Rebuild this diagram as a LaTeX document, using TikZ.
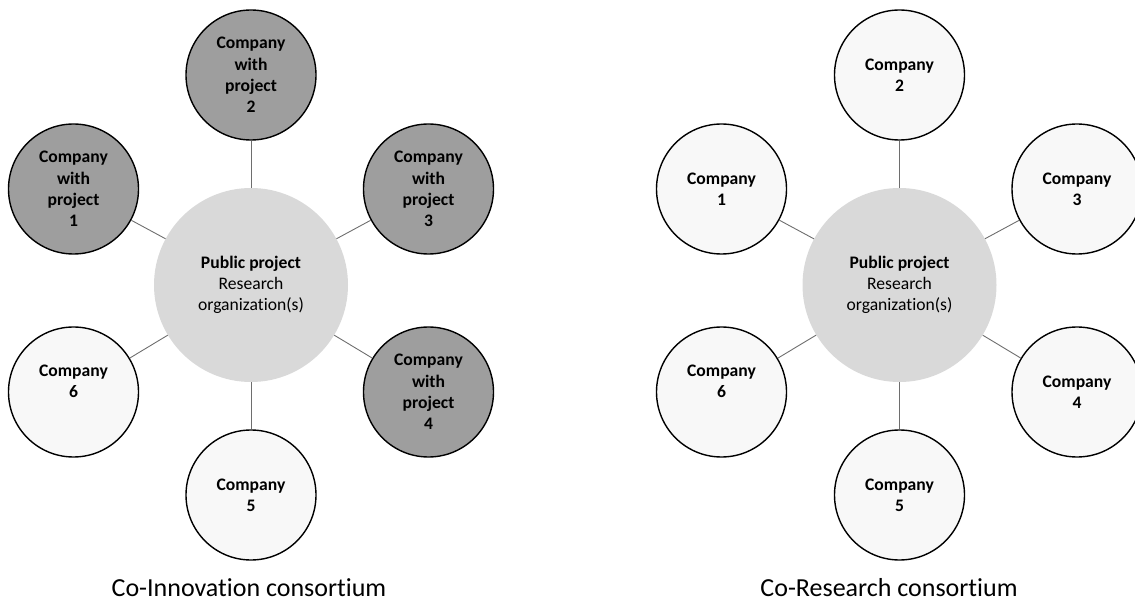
\documentclass[tikz,border=0pt]{standalone}
\usepackage{fontspec}
\setmainfont{Carlito}[Ligatures=NoCommon]
\definecolor{hubfill}{RGB}{217,217,217}
\definecolor{projfill}{RGB}{158,158,158}
\definecolor{plainfill}{RGB}{248,248,248}
\definecolor{linkgray}{RGB}{110,110,110}
\tikzset{
  hub/.style={circle, fill=hubfill, minimum size=194pt, inner sep=0pt, align=center,
              font=\fontsize{17.6}{21.3}\selectfont},
  firm/.style={circle, draw=black, line width=1.4pt, minimum size=130pt, inner sep=0pt,
               align=center, font=\bfseries\fontsize{17.6}{21.3}\selectfont},
  projfirm/.style={firm, fill=projfill},
  plainfirm/.style={firm, fill=plainfill},
  link/.style={draw=linkgray, line width=0.9pt},
  caption/.style={anchor=base, inner sep=0pt, font=\fontsize{26}{31}\selectfont}
}
\begin{document}
\begin{tikzpicture}[x=1pt,y=-1pt]
\useasboundingbox (0,0) rectangle (1135,601);
\begin{scope}
\clip (0,0) rectangle (1135,601);
% Co-Innovation consortium
\node[hub] (lc) at (251,285) {\textbf{Public project}\\Research\\organization(s)};
\node[projfirm] (l1) at (73.5,189) {Company\\with\\project\\1};
\node[projfirm] (l2) at (251,75) {Company\\with\\project\\2};
\node[projfirm] (l3) at (428.5,189) {Company\\with\\project\\3};
\node[projfirm] (l4) at (428.5,392) {Company\\with\\project\\4};
\node[plainfirm] (l5) at (251,495) {Company\\5};
\node[plainfirm] (l6) at (73.5,392) {Company\\6\\\mbox{}};
\foreach \n in {1,...,6} \draw[link] (lc) -- (l\n);
\node[caption] (lcap) at (249,596) {Co-Innovation consortium};
% Co-Research consortium
\node[hub] (rc) at (899.5,285) {\textbf{Public project}\\Research\\organization(s)};
\node[plainfirm] (r1) at (721.5,189) {Company\\1};
\node[plainfirm] (r2) at (899.5,75) {Company\\2};
\node[plainfirm] (r3) at (1077,189) {Company\\3};
\node[plainfirm] (r4) at (1077,392) {Company\\4};
\node[plainfirm] (r5) at (899.5,495) {Company\\5};
\node[plainfirm] (r6) at (721.5,392) {Company\\6\\\mbox{}};
\foreach \n in {1,...,6} \draw[link] (rc) -- (r\n);
\node[caption] (rcap) at (889,596) {Co-Research consortium};
\end{scope}
\end{tikzpicture}
\end{document}
